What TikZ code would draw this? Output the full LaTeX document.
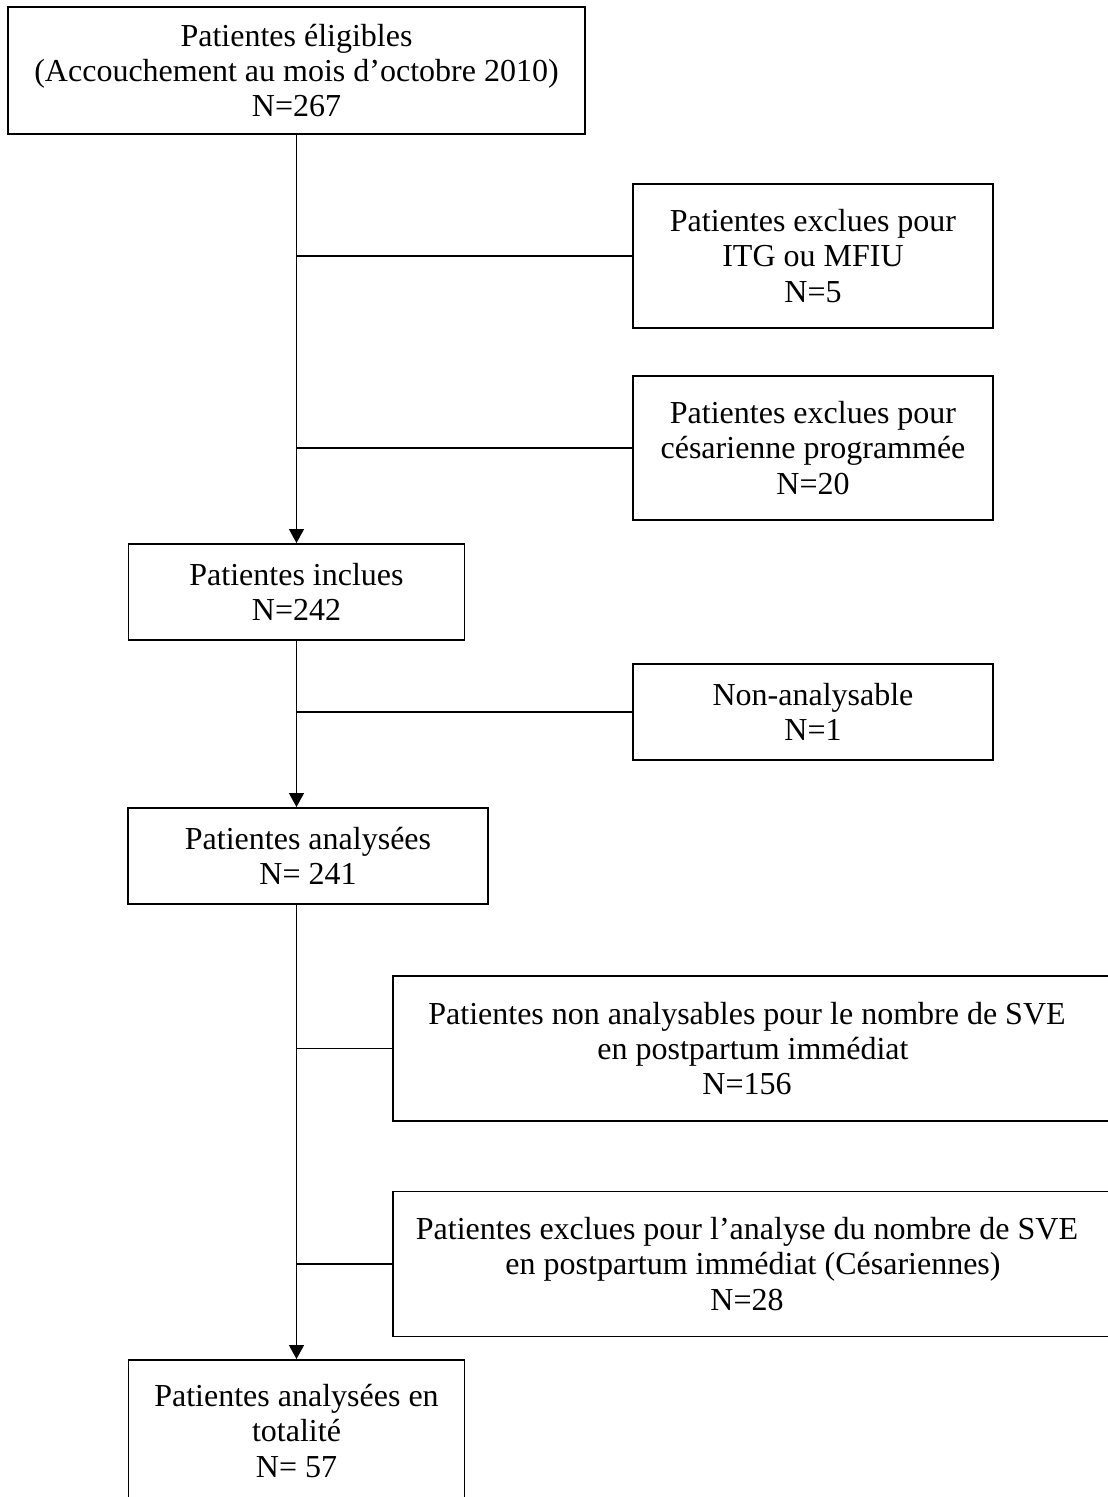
\documentclass[tikz,border=0pt]{standalone}
\usepackage{fontspec}
\setmainfont{Liberation Serif}
\usetikzlibrary{arrows.meta}
\newlength{\pxu}
\setlength{\pxu}{0.3937pt}
\newcommand{\rpad}{\hspace*{12\pxu}}
\begin{document}
\begin{tikzpicture}[x=0.3937pt, y=-0.3937pt,
  box/.style={draw, line width=0.75pt, rectangle, inner sep=0pt, align=center,
    font=\fontsize{12.6}{13.8}\selectfont},
  link/.style={line width=0.75pt},
  arr/.style={line width=0.75pt, -{Triangle[length=5.5pt, width=5.8pt]}}]
\useasboundingbox (0,0) rectangle (1107,1497);
% main column
\node[box, minimum width=577\pxu, minimum height=127\pxu] (top) at (296.5,70.5)
  {Patientes éligibles\\(Accouchement au mois d’octobre 2010)\\N=267};
\node[box, minimum width=336\pxu, minimum height=96\pxu] (incl) at (296.5,592)
  {Patientes inclues\\N=242};
\node[box, minimum width=360\pxu, minimum height=96\pxu] (anal) at (308,856)
  {Patientes analysées\\N= 241};
\node[box, minimum width=336\pxu, minimum height=142\pxu] (final) at (296.5,1431)
  {Patientes analysées en\\totalité\\N= 57};
% side boxes
\node[box, minimum width=360\pxu, minimum height=144\pxu] (ex1) at (813,256)
  {Patientes exclues pour\\ITG ou MFIU\\N=5};
\node[box, minimum width=360\pxu, minimum height=144\pxu] (ex2) at (813,448)
  {Patientes exclues pour\\césarienne programmée\\N=20};
\node[box, minimum width=360\pxu, minimum height=96\pxu] (ex3) at (813,712)
  {Non-analysable\\N=1};
\node[box, minimum width=720\pxu, minimum height=145\pxu] (ex4) at (753,1048.5)
  {Patientes non analysables pour le nombre de SVE\rpad\\en postpartum immédiat\rpad\\N=156\rpad};
\node[box, minimum width=720\pxu, minimum height=145\pxu] (ex5) at (753,1264)
  {Patientes exclues pour l’analyse du nombre de SVE\rpad\\en postpartum immédiat (Césariennes)\rpad\\N=28\rpad};
% trunk arrows
\draw[arr] (top.south) -- (top.south |- incl.north);
\draw[arr] (incl.south) -- (incl.south |- anal.north);
\draw[link] (incl.south |- anal.south) -- (incl.south |- ex5.south);
\draw[arr] (incl.south |- ex5.south) -- (final.north);
% branches
\draw[link] (ex1.west) -- (ex1.west -| top.south);
\draw[link] (ex2.west) -- (ex2.west -| top.south);
\draw[link] (ex3.west) -- (ex3.west -| incl.south);
\draw[link] (ex4.west) -- (ex4.west -| incl.south);
\draw[link] (ex5.west) -- (ex5.west -| incl.south);
\end{tikzpicture}
\end{document}
